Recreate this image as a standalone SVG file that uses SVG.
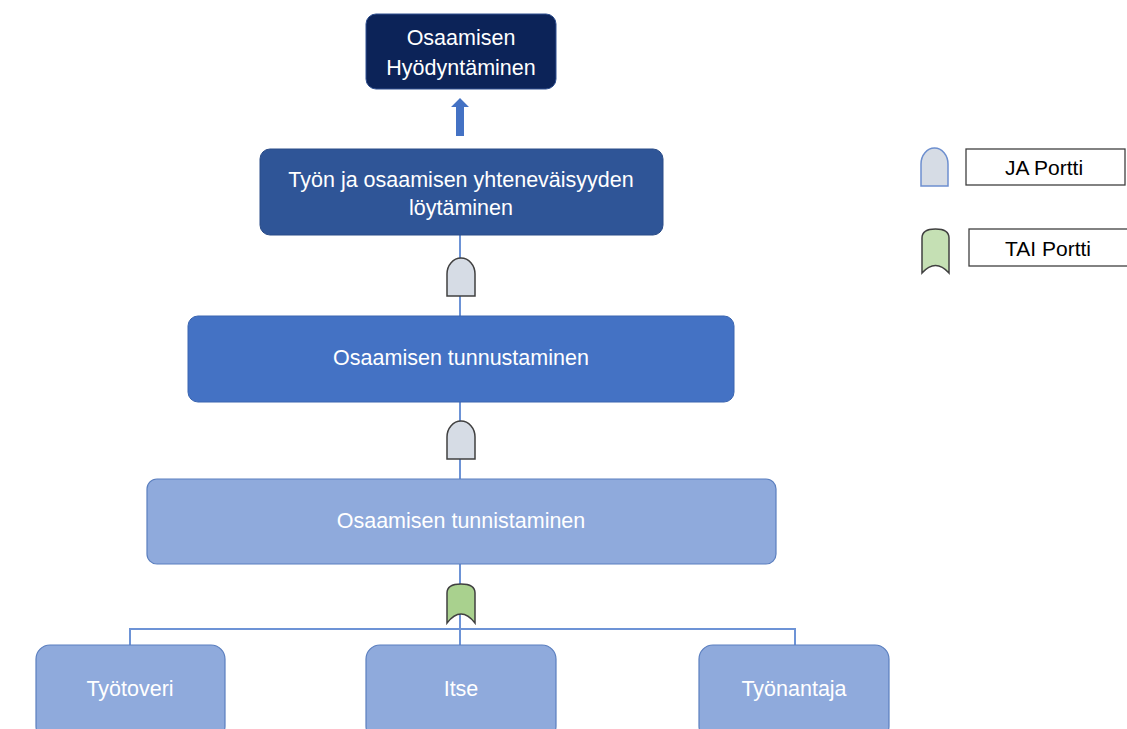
<svg xmlns="http://www.w3.org/2000/svg" width="1127" height="729" viewBox="0 0 1127 729">
<style>
text{font-family:"Liberation Sans",Arial,sans-serif;font-size:21.5px;fill:#fff;text-anchor:middle;dominant-baseline:central}
.lg{fill:#000;font-size:21px}
.ln{stroke:#6d93d6;stroke-width:2;fill:none}
.and{fill:#d6dce5;stroke:#404040;stroke-width:1.5}
.or{fill:#a9d18e;stroke:#404040;stroke-width:1.5}
.leaf{fill:#8faadc;stroke:#5b7fbf;stroke-width:1.2}
</style>
<rect width="1127" height="729" fill="#fff"/>
<g id="connectors">
<path class="ln" d="M460,235 V258 M460,296 V316 M460,402 V421 M460,459 V479 M460,564 V645"/>
<path class="ln" stroke-width="1.5" d="M130,645 V629 H795 V645"/>
<path d="M456,136 V107 H451 L460,98 L469,107 H464 V136 Z" fill="#4472c4"/>
</g>
<g id="n1"><rect x="366" y="14" width="190" height="75" rx="10" fill="#0c2358" stroke="#2f4f8f" stroke-width="1"/>
<text x="461" y="38">Osaamisen</text><text x="461" y="68">Hyödyntäminen</text></g>
<g id="n2"><rect x="260" y="149" width="403" height="86" rx="10" fill="#2f5597" stroke="#2a4c88" stroke-width="1"/>
<text x="461" y="180">Työn ja osaamisen yhteneväisyyden</text><text x="461" y="208">löytäminen</text></g>
<g id="n3"><rect x="188" y="316" width="546" height="86" rx="10" fill="#4472c4" stroke="#3a65b0" stroke-width="1"/>
<text x="461" y="358">Osaamisen tunnustaminen</text></g>
<g id="n4"><rect x="147" y="479" width="629" height="85" rx="10" class="leaf"/>
<text x="461" y="521">Osaamisen tunnistaminen</text></g>
<g id="gate1"><path class="and" d="M447,296 V274 A14,16 0 0 1 475,274 V296 Z"/></g>
<g id="gate2"><path class="and" d="M447,459 V437 A14,16 0 0 1 475,437 V459 Z"/></g>
<g id="gate3"><path class="or" d="M447,623 V593 Q447,584 461,584 Q475,584 475,593 V623 Q461,605 447,623 Z"/></g>
<g id="c1"><rect x="36" y="645" width="189" height="95" rx="14" class="leaf"/><text x="130" y="689">Työtoveri</text></g>
<g id="c2"><rect x="366" y="645" width="190" height="95" rx="14" class="leaf"/><text x="461" y="689">Itse</text></g>
<g id="c3"><rect x="699" y="645" width="190" height="95" rx="14" class="leaf"/><text x="794" y="689">Työnantaja</text></g>
<g id="legend-and"><path d="M921,186 V164 A13.5,16 0 0 1 948,164 V186 Z" fill="#d6dce5" stroke="#6d8fcf" stroke-width="1.5"/>
<rect x="966" y="149" width="159" height="36" fill="#fff" stroke="#404040" stroke-width="1.3"/>
<text class="lg" x="1044" y="167">JA Portti</text></g>
<g id="legend-or"><path d="M922,273 V238 Q922,229 935.5,229 Q949,229 949,238 V273 Q935.5,258 922,273 Z" fill="#c5e0b4" stroke="#404040" stroke-width="1.5"/>
<rect x="969" y="229" width="170" height="37" fill="#fff" stroke="#404040" stroke-width="1.3"/>
<text class="lg" x="1048" y="248">TAI Portti</text></g>
</svg>
